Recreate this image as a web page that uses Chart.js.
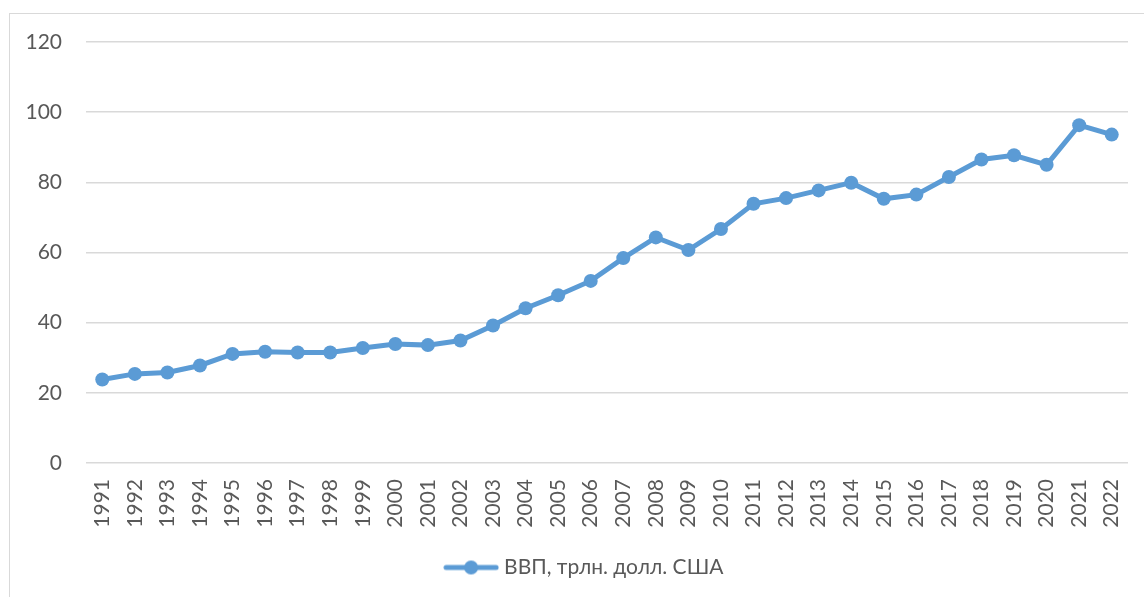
<!DOCTYPE html>
<html>
<head>
<meta charset="utf-8">
<script src="https://cdn.jsdelivr.net/npm/chart.js@4.4.1/dist/chart.umd.min.js"></script>
<style>
  html, body { margin: 0; padding: 0; background: #fff; }
  #wrap { position: relative; width: 1144px; height: 597px; overflow: hidden; }
  #frame { position: absolute; left: 9px; top: 13px; width: 1200px; height: 650px;
           border: 1.5px solid #d9d9d9; box-sizing: border-box; }
  #chartGdp { position: absolute; left: 0; top: 0; }
</style>
</head>
<body>
<div id="wrap">
  <div id="frame"></div>
  <canvas id="chartGdp" width="1144" height="597"></canvas>
</div>
<script>
// ВВП, трлн. долл. США
const years = ["1991", "1992", "1993", "1994", "1995", "1996", "1997", "1998",
  "1999", "2000", "2001", "2002", "2003", "2004", "2005", "2006", "2007", "2008",
  "2009", "2010", "2011", "2012", "2013", "2014", "2015", "2016", "2017", "2018",
  "2019", "2020", "2021", "2022"];
const gdpValues = [23.8, 25.4, 25.8, 27.8, 31.1, 31.7, 31.5, 31.5,
  32.8, 33.9, 33.6, 34.9, 39.2, 44.1, 47.8, 51.9, 58.4, 64.3,
  60.7, 66.7, 73.9, 75.5, 77.7, 79.9, 75.3, 76.5, 81.5, 86.5,
  87.7, 85.0, 96.3, 93.6];
const yTicks = [0, 20, 40, 60, 80, 100, 120];
const seriesName = "ВВП, трлн. долл. США";

const blue = "#5b9bd5";
const grey = "#595959";

// legend symbol: line with a dot, like the office-style legend
const legendIcon = document.createElement("canvas");
legendIcon.width = 56;
legendIcon.height = 16;
const lctx = legendIcon.getContext("2d");
lctx.strokeStyle = blue;
lctx.lineWidth = 5;
lctx.lineCap = "round";
lctx.beginPath();
lctx.moveTo(3, 8);
lctx.lineTo(53, 8);
lctx.stroke();
lctx.fillStyle = blue;
lctx.beginPath();
lctx.arc(28, 8, 7, 0, Math.PI * 2);
lctx.fill();

// the original legend sits a bit right of the plot centre
const legendShift = {
  id: "legendShift",
  afterLayout(chart) {
    chart.legend.left += 22;
    chart.legend.right += 22;
  },
};

const chartGdp = document.getElementById("chartGdp");
new Chart(chartGdp, {
  type: "line",
  data: {
    labels: years,
    datasets: [
      {
        label: seriesName,
        data: gdpValues,
        borderColor: blue,
        backgroundColor: blue,
        borderWidth: 5,
        pointRadius: 7,
        pointHoverRadius: 7,
        pointBorderWidth: 0,
        tension: 0,
      },
    ],
  },
  plugins: [legendShift],
  options: {
    responsive: false,
    animation: false,
    layout: { padding: { left: 0, right: 16, top: 42, bottom: 9 } },
    font: { family: "Lato", size: 21 },
    plugins: {
      tooltip: { enabled: false },
      legend: {
        position: "bottom",
        labels: {
          color: grey,
          font: { family: "Lato", size: 21 },
          usePointStyle: true,
          pointStyleWidth: 45,
          padding: 10,
          generateLabels: (chart) => [{
            text: seriesName,
            fontColor: grey,
            pointStyle: legendIcon,
            datasetIndex: 0,
            lineWidth: 0,
          }],
        },
      },
    },
    scales: {
      x: {
        offset: true,
        grid: { display: false, drawTicks: false },
        border: { display: false },
        ticks: {
          color: grey,
          font: { family: "Lato", size: 21 },
          minRotation: 90,
          maxRotation: 90,
          autoSkip: false,
          padding: 16,
        },
        afterFit: (scale) => {
          scale.height = 84;
          scale.paddingLeft = 0;
          scale.paddingRight = 0;
        },
      },
      y: {
        min: 0,
        max: 120,
        afterBuildTicks: (scale) => { scale.ticks = yTicks.map((v) => ({ value: v })); },
        grid: { color: "#d9d9d9", lineWidth: 1.5, drawTicks: false },
        border: { display: false },
        ticks: {
          color: grey,
          font: { family: "Lato", size: 21 },
          padding: 24,
        },
        afterFit: (scale) => { scale.width = 86; },
      },
    },
  },
});
</script>
</body>
</html>
